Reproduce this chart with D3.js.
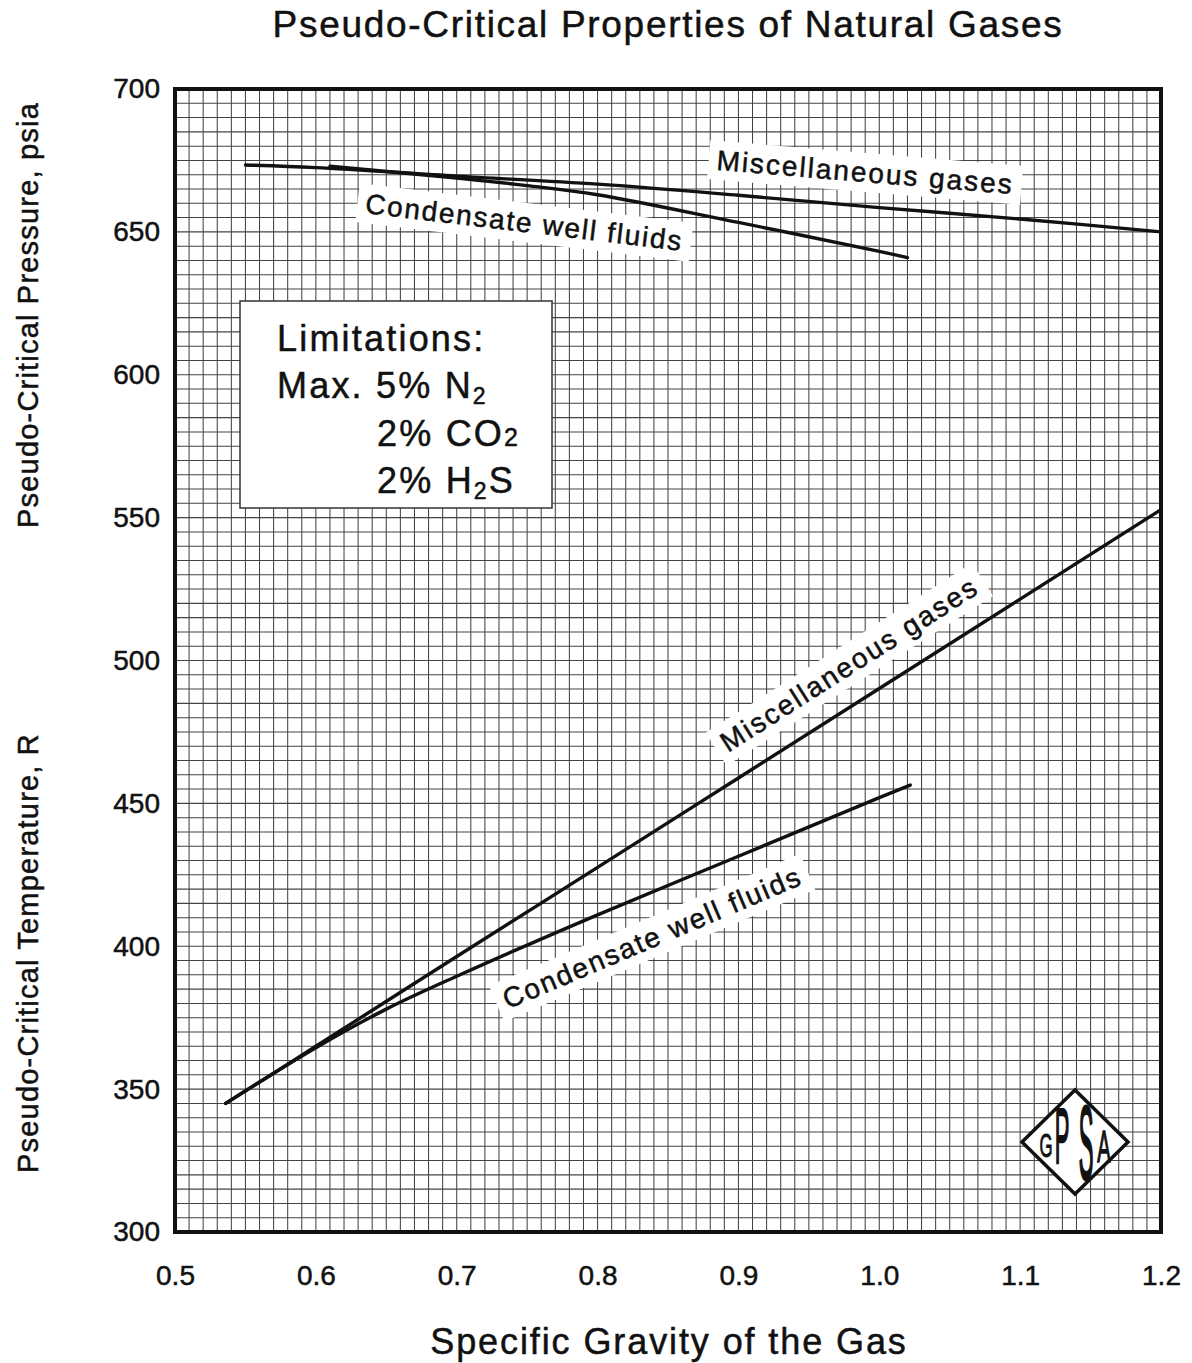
<!DOCTYPE html>
<html>
<head>
<meta charset="utf-8">
<script src="https://cdn.jsdelivr.net/npm/d3@7"></script>
<style>
  body { margin: 0; background: #fff; }
  text { font-family: "Liberation Sans", Arial, Helvetica, sans-serif; fill: #111; stroke: #111; stroke-width: 0.5px; }
</style>
</head>
<body>
<div id="chart"></div>
<script>
// --- data ---
// pseudo-critical pressure (psia)
const sgMiscP = [0.55, 0.6, 0.7, 0.8, 0.9, 1.0, 1.1, 1.2];
const ppcMisc = [673.4, 672.5, 669.5, 666.7, 662.8, 658.5, 654.5, 650];
const sgCondP = [0.61, 0.7, 0.75, 0.8, 0.9, 1.0, 1.02];
const ppcCond = [673, 668.8, 666.2, 663, 653.3, 643.2, 641];

// pseudo-critical temperature (R)
const sgMiscT = [0.536, 0.6, 0.7, 0.8, 0.9, 1.0, 1.1, 1.2];
const tpcMisc = [345, 365, 396.4, 427.6, 458.9, 490.2, 521.5, 552.8];
const sgCondT = [0.536, 0.6, 0.65, 0.7, 0.8, 0.9, 1.0, 1.022];
const tpcCond = [345, 364.5, 378, 389.5, 411, 431.5, 452, 456.4];

// ticks
const xTicks = [0.5, 0.6, 0.7, 0.8, 0.9, 1.0, 1.1, 1.2];
const yTicks = [300, 350, 400, 450, 500, 550, 600, 650, 700];

const W = 1192, H = 1363;
const margin = { top: 89, right: 31, bottom: 131, left: 175 };
const width = W - margin.left - margin.right;
const height = H - margin.top - margin.bottom;

const svg = d3.select("#chart").append("svg")
    .attr("width", W)
    .attr("height", H);

const g = svg.append("g")
    .attr("transform", "translate(" + margin.left + "," + margin.top + ")");

const x = d3.scaleLinear().domain([0.5, 1.2]).range([0, width]);
const y = d3.scaleLinear().domain([300, 700]).range([height, 0]);

// graph-paper grid: every 0.01 in x, every 5 in y
const gridX = d3.range(0, 71).map(i => 0.5 + i * 0.01);
const gridY = d3.range(0, 81).map(i => 300 + i * 5);

g.append("g").attr("class", "grid")
    .selectAll("line.vx")
    .data(gridX)
    .join("line")
    .attr("x1", d => x(d)).attr("x2", d => x(d))
    .attr("y1", 0).attr("y2", height)
    .attr("stroke", "#444")
    .attr("stroke-width", 1.05);

g.append("g").attr("class", "grid")
    .selectAll("line.hy")
    .data(gridY)
    .join("line")
    .attr("x1", 0).attr("x2", width)
    .attr("y1", d => y(d)).attr("y2", d => y(d))
    .attr("stroke", "#444")
    .attr("stroke-width", 1.05);

// label with a white patch behind it
function addLabel(txt, sg, val, angle, size, spacing) {
    let grp = g.append("g")
        .attr("transform", `translate(${x(sg)},${y(val)}) rotate(${angle})`);
    let bg = grp.append("rect").attr("fill", "#fff");
    let t = grp.append("text")
        .attr("text-anchor", "middle")
        .attr("dy", "0.36em")
        .style("font-size", size + "px")
        .style("letter-spacing", spacing + "px")
        .text(txt);
    let bb = t.node().getBBox();
    bg.attr("x", bb.x - 8).attr("y", bb.y - 4)
      .attr("width", bb.width + 16).attr("height", bb.height + 8);
}

addLabel("Miscellaneous gases", 0.99, 671, 4.7, 28, 2.0);
addLabel("Condensate well fluids", 0.748, 653.5, 6.8, 28, 1.8);
addLabel("Miscellaneous gases", 0.9785, 498.8, -32.5, 28, 2.1);
addLabel("Condensate well fluids", 0.8386, 403.2, -23, 28, 1.9);

// limitations box
const box = g.append("g").attr("transform", "translate(" + (240 - margin.left) + "," + (301 - margin.top) + ")");
box.append("rect")
    .attr("width", 312).attr("height", 207)
    .attr("fill", "#fff")
    .attr("stroke", "#333")
    .attr("stroke-width", 1.5);

const fs = 36, ls = 2.2;
box.append("text").attr("x", 37).attr("y", 50)
    .style("font-size", fs + "px").style("letter-spacing", ls + "px")
    .text("Limitations:");

let l2 = box.append("text").attr("x", 37).attr("y", 97)
    .style("font-size", fs + "px").style("letter-spacing", ls + "px");
l2.append("tspan").text("Max. 5% N");
l2.append("tspan").attr("dy", 6).style("font-size", "23px").text("2");

let l3 = box.append("text").attr("x", 137).attr("y", 145)
    .style("font-size", fs + "px").style("letter-spacing", ls + "px");
l3.append("tspan").text("2% CO");
l3.append("tspan").style("font-size", "25px").text("2");

let l4 = box.append("text").attr("x", 137).attr("y", 192)
    .style("font-size", fs + "px").style("letter-spacing", ls + "px");
l4.append("tspan").text("2% H");
l4.append("tspan").attr("dy", 6).style("font-size", "23px").text("2");
l4.append("tspan").attr("dy", -6).text("S");

// curves
const line = d3.line()
    .curve(d3.curveCatmullRom)
    .x(d => x(d[0]))
    .y(d => y(d[1]));

const curves = [
    d3.zip(sgMiscP, ppcMisc),
    d3.zip(sgCondP, ppcCond),
    d3.zip(sgMiscT, tpcMisc),
    d3.zip(sgCondT, tpcCond)
];

g.append("g").selectAll("path.curve")
    .data(curves)
    .join("path")
    .attr("class", "curve")
    .attr("d", line)
    .attr("fill", "none")
    .attr("stroke", "#111")
    .attr("stroke-width", 3.4)
    .attr("stroke-linecap", "round");

// GPSA logo
const logo = g.append("g").attr("transform", "translate(" + (1075 - margin.left) + "," + (1142 - margin.top) + ")");
logo.append("path")
    .attr("d", "M0,-52 L53,0 L0,52 L-53,0 Z")
    .attr("fill", "#fff")
    .attr("stroke", "#111")
    .attr("stroke-width", 3.5);
// letter, dx, baseline dy, scaleX, scaleY
const letters = [["G", -29, 15, 0.42, 0.85], ["P", -13, 21, 0.55, 1.95], ["S", 11, 37, 0.55, 2.6], ["A", 29, 20, 0.5, 1.1]];
letters.forEach(l => {
    logo.append("text")
        .attr("transform", `translate(${l[1]},${l[2]}) scale(${l[3]},${l[4]})`)
        .attr("text-anchor", "middle")
        .style("font-size", "40px")
        .style("stroke-width", "1.2px")
        .text(l[0]);
});

// frame
g.append("rect")
    .attr("width", width).attr("height", height)
    .attr("fill", "none")
    .attr("stroke", "#111")
    .attr("stroke-width", 4);

// axes
const xAxis = d3.axisBottom(x).tickValues(xTicks).tickFormat(d3.format(".1f")).tickSize(0).tickPadding(33);
const yAxis = d3.axisLeft(y).tickValues(yTicks).tickSize(0).tickPadding(15);

g.append("g").attr("class", "x-axis axis")
    .attr("transform", "translate(0," + height + ")")
    .call(xAxis)
    .call(a => a.select(".domain").remove())
    .selectAll("text").style("font-size", "28px").style("fill", "#111");

g.append("g").attr("class", "y-axis axis")
    .call(yAxis)
    .call(a => a.select(".domain").remove())
    .selectAll("text").style("font-size", "28px").style("fill", "#111");

// titles
svg.append("text")
    .attr("x", 668).attr("y", 37)
    .attr("text-anchor", "middle")
    .style("font-size", "37px")
    .style("letter-spacing", "1.7px")
    .text("Pseudo-Critical Properties of Natural Gases");

svg.append("text")
    .attr("x", 669).attr("y", 1354)
    .attr("text-anchor", "middle")
    .style("font-size", "36px")
    .style("letter-spacing", "1.9px")
    .text("Specific Gravity of the Gas");

svg.append("text")
    .attr("transform", "translate(38,315) rotate(-90)")
    .attr("text-anchor", "middle")
    .style("font-size", "29px")
    .style("letter-spacing", "1.2px")
    .text("Pseudo-Critical Pressure, psia");

svg.append("text")
    .attr("transform", "translate(38,953) rotate(-90)")
    .attr("text-anchor", "middle")
    .style("font-size", "29px")
    .style("letter-spacing", "1.2px")
    .text("Pseudo-Critical Temperature, R");
</script>
</body>
</html>
